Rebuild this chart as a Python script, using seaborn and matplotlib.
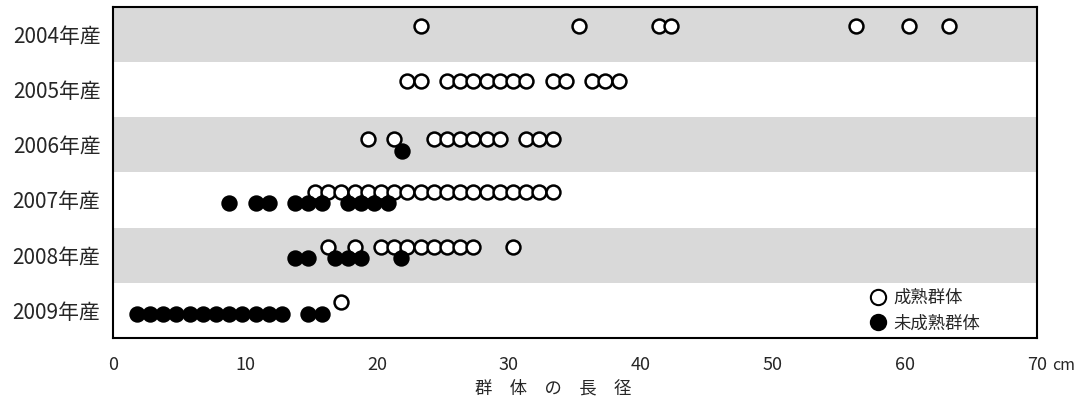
import matplotlib
matplotlib.use("Agg")
import matplotlib.pyplot as plt
from matplotlib.lines import Line2D
import seaborn as sns
import pandas as pd

# ---- data ----
years = ["2004年産", "2005年産", "2006年産", "2007年産", "2008年産", "2009年産"]

mature = {
    "2004年産": [23.3, 35.3, 41.4, 42.3, 56.3, 60.3, 63.3],
    "2005年産": [22.3, 23.3, 25.3, 26.3, 27.3, 28.3, 29.3, 30.3, 31.3, 33.3, 34.3, 36.3, 37.3, 38.3],
    "2006年産": [19.3, 21.3, 24.3, 25.3, 26.3, 27.3, 28.3, 29.3, 31.3, 32.3, 33.3],
    "2007年産": [15.3, 16.3, 17.3, 18.3, 19.3, 20.3, 21.3, 22.3, 23.3, 24.3, 25.3, 26.3,
                 27.3, 28.3, 29.3, 30.3, 31.3, 32.3, 33.3],
    "2008年産": [16.3, 18.3, 20.3, 21.3, 22.3, 23.3, 24.3, 25.3, 26.3, 27.3, 30.3],
    "2009年産": [17.3],
}
immature = {
    "2004年産": [],
    "2005年産": [],
    "2006年産": [21.9],
    "2007年産": [8.8, 10.8, 11.8, 13.8, 14.8, 15.8, 17.8, 18.8, 19.8, 20.8],
    "2008年産": [13.8, 14.8, 16.8, 17.8, 18.8, 21.8],
    "2009年産": [1.8, 2.8, 3.8, 4.8, 5.8, 6.8, 7.8, 8.8, 9.8, 10.8, 11.8, 12.8, 14.8, 15.8],
}
xticks = [0, 10, 20, 30, 40, 50, 60, 70]
label_mature = "成熟群体"
label_immature = "未成熟群体"
xlabel = "群　体　の　長　径"
unit = "cm"

# ---- styling ----
sns.set_theme(style="white")
plt.rcParams["font.family"] = ["Noto Sans CJK JP", "DejaVu Sans"]

rows_m, rows_i = [], []
for i, y in enumerate(years):
    off_m = -0.11 if y == "2006年産" else -0.15
    off_i = 0.11 if y == "2006年産" else 0.06
    for v in mature[y]:
        rows_m.append({"len": v, "pos": i + off_m})
    for v in immature[y]:
        rows_i.append({"len": v, "pos": i + off_i})
df_m = pd.DataFrame(rows_m)
df_i = pd.DataFrame(rows_i)

fig = plt.figure(figsize=(10.89, 4.09), dpi=100)
ax = fig.add_axes([0.1038, 0.174, 0.8484, 0.809])

for i in range(len(years)):
    if i % 2 == 0:
        ax.axhspan(i - 0.5, i + 0.5, color="#d9d9d9", lw=0, zorder=0)

sns.scatterplot(data=df_m, x="len", y="pos", ax=ax, s=100, color="white",
                edgecolor="black", linewidth=1.8, zorder=3)
sns.scatterplot(data=df_i, x="len", y="pos", ax=ax, s=100, color="black",
                edgecolor="black", linewidth=1.8, zorder=4)

ax.set_xlim(0, 70)
ax.set_ylim(len(years) - 0.5, -0.5)
ax.set_yticks(range(len(years)))
ax.set_yticklabels(years, fontsize=15)
ax.set_xticks(xticks)
ax.set_xticklabels([str(t) for t in xticks], fontsize=13)
ax.tick_params(axis="x", direction="out", length=5, width=1.5, color="black", pad=8)
ax.tick_params(axis="y", length=0, pad=9)
ax.set_ylabel("")
ax.set_xlabel(xlabel, fontsize=12.5)
ax.xaxis.set_label_coords(0.476, -0.125)
for sp in ax.spines.values():
    sp.set_color("black")
    sp.set_linewidth(1.5)

ax.annotate(unit, xy=(70, 0), xycoords=("data", "axes fraction"),
            xytext=(11, -14), textcoords="offset points", fontsize=11.5,
            ha="left", va="top")

handles = [
    Line2D([], [], marker="o", linestyle="none", markersize=11, markerfacecolor="white",
           markeredgecolor="black", markeredgewidth=1.5),
    Line2D([], [], marker="o", linestyle="none", markersize=11, markerfacecolor="black",
           markeredgecolor="black", markeredgewidth=1.5),
]
ax.legend(handles, [label_mature, label_immature], loc="lower left",
          bbox_to_anchor=(0.803, -0.015), frameon=False, fontsize=12.5,
          handletextpad=0.1, labelspacing=0.42, borderaxespad=0.2, handlelength=1.5)

fig.savefig("out.png", dpi=100)
